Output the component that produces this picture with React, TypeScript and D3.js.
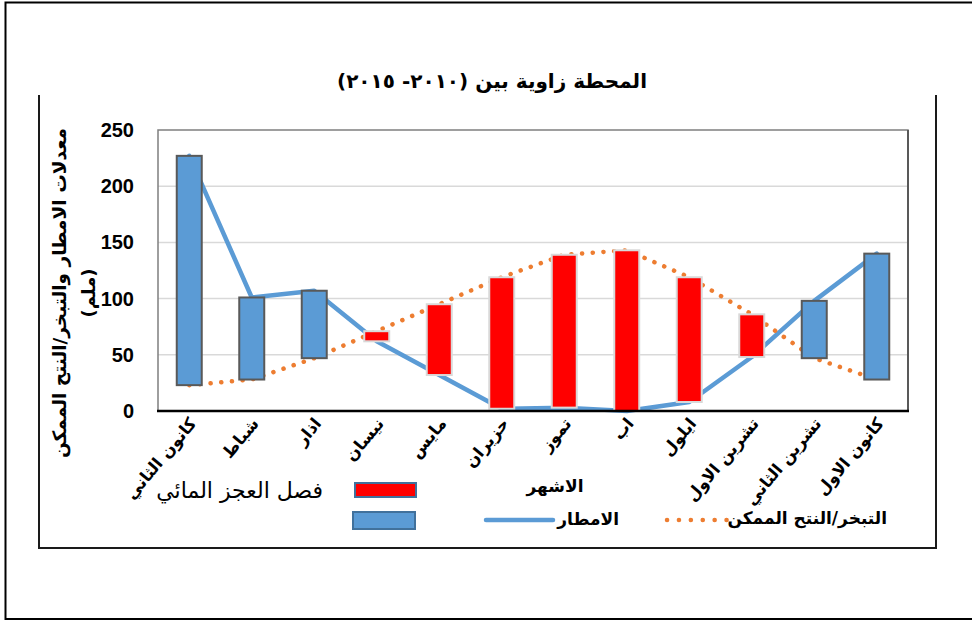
import React, { useRef, useEffect } from "react";
import * as d3 from "d3";

// monthly averages, Zawiya Bin station 2010-2015 (mm)
const months = [
  "كانون الثاني",
  "شباط",
  "اذار",
  "نيسان",
  "مايس",
  "حزيران",
  "تموز",
  "اب",
  "ايلول",
  "تشرين الاول",
  "تشرين الثاني",
  "كانون الاول",
];
const rain = [227, 101, 107, 62, 32, 2, 3, 0, 8, 48, 98, 140];
const evap = [23, 28, 47, 71, 95, 119, 139, 143, 119, 86, 47, 28];
const yTicks = [0, 50, 100, 150, 200, 250];

const AR = "'DejaVu Sans', sans-serif";
const NUM = "'Liberation Sans Narrow', 'Liberation Sans', sans-serif";

function App() {
  const svgRef = useRef<SVGSVGElement>(null);

  useEffect(() => {
    const width = 972;
    const height = 620;
    const plot = { left: 158, right: 908, top: 130, bottom: 411 };

    const svg = d3.select(svgRef.current).attr("width", width).attr("height", height);
    svg.selectAll("*").remove();

    // frames
    svg.append("rect")
      .attr("x", 5.5).attr("y", 2.5)
      .attr("width", 980).attr("height", 616.5)
      .attr("fill", "#fff").attr("stroke", "#000").attr("stroke-width", 2);

    svg.append("path")
      .attr("d", "M39,95 V548 H936 V95")
      .attr("fill", "none").attr("stroke", "#1a1a1a").attr("stroke-width", 2);

    // SCALES
    const x = d3.scaleBand<string>()
      .domain(months)
      .range([plot.left, plot.right])
      .padding(0);
    const cx = (i: number) => (x(months[i]) as number) + x.bandwidth() / 2;

    const y = d3.scaleLinear().domain([0, 250]).range([plot.bottom, plot.top]);

    // GRID
    svg.append("g")
      .selectAll("line")
      .data(yTicks.slice(1, -1))
      .enter()
      .append("line")
      .attr("x1", plot.left).attr("x2", plot.right)
      .attr("y1", d => y(d)).attr("y2", d => y(d))
      .attr("stroke", "#d9d9d9").attr("stroke-width", 1.5);

    // plot border
    svg.append("path")
      .attr("d", `M${plot.left},${plot.bottom} V${plot.top} H${plot.right} V${plot.bottom}`)
      .attr("fill", "none").attr("stroke", "#7f7f7f").attr("stroke-width", 1.5);
    svg.append("line")
      .attr("x1", plot.right).attr("x2", plot.right)
      .attr("y1", plot.top).attr("y2", plot.bottom)
      .attr("stroke", "#595959").attr("stroke-width", 2);

    // LINES
    const line = d3.line<number>().x((_, i) => cx(i)).y(d => y(d));

    svg.append("path")
      .datum(rain)
      .attr("d", line)
      .attr("fill", "none")
      .attr("stroke", "#5b9bd5")
      .attr("stroke-width", 4.5)
      .attr("stroke-linejoin", "round")
      .attr("stroke-linecap", "round");

    svg.append("path")
      .datum(evap)
      .attr("d", line)
      .attr("fill", "none")
      .attr("stroke", "#ed7d31")
      .attr("stroke-width", 4.5)
      .attr("stroke-linecap", "round")
      .attr("stroke-dasharray", "0.1 10.6");

    // UP/DOWN BARS
    const bw = x.bandwidth() * 0.4;
    svg.append("g")
      .selectAll("rect")
      .data(months)
      .enter()
      .append("rect")
      .attr("x", (_, i) => cx(i) - bw / 2)
      .attr("y", (_, i) => y(Math.max(rain[i], evap[i])))
      .attr("width", bw)
      .attr("height", (_, i) => Math.abs(y(rain[i]) - y(evap[i])))
      .attr("fill", (_, i) => (rain[i] > evap[i] ? "#5b9bd5" : "#ff0000"))
      .attr("stroke", (_, i) => (rain[i] > evap[i] ? "#595959" : "#d9d9d9"))
      .attr("stroke-width", 2);

    // bottom axis line
    svg.append("line")
      .attr("x1", plot.left - 1).attr("x2", plot.right + 1)
      .attr("y1", plot.bottom).attr("y2", plot.bottom)
      .attr("stroke", "#000").attr("stroke-width", 2.5);

    // Y TICK LABELS
    svg.append("g")
      .selectAll("text")
      .data(yTicks)
      .enter()
      .append("text")
      .attr("x", 134)
      .attr("y", d => y(d))
      .attr("dy", "0.35em")
      .attr("text-anchor", "end")
      .attr("font-family", NUM)
      .attr("font-weight", "bold")
      .attr("font-size", 20)
      .text(d => d);

    // X LABELS
    svg.append("g")
      .selectAll("text")
      .data(months)
      .enter()
      .append("text")
      .attr("transform", (_, i) => `translate(${cx(i) + 8},${424}) rotate(-50)`)
      .attr("text-anchor", "end")
      .attr("font-family", AR)
      .attr("font-weight", "bold")
      .attr("font-size", 16.5)
      .text(d => d);

    // TITLE
    svg.append("text")
      .attr("x", 492)
      .attr("y", 88)
      .attr("direction", "rtl")
      .attr("text-anchor", "middle")
      .attr("font-family", AR)
      .attr("font-weight", "bold")
      .attr("font-size", 20)
      .text("المحطة زاوية بين (٢٠١٠- ٢٠١٥)");

    // AXIS TITLES
    const yTitle = svg.append("g").attr("transform", "translate(0,293) rotate(-90)");
    yTitle.append("text")
      .attr("x", 0).attr("y", 66)
      .attr("direction", "rtl")
      .attr("text-anchor", "middle")
      .attr("font-family", AR)
      .attr("font-weight", "bold")
      .attr("font-size", 18.5)
      .text("معدلات الامطار والتبخر/النتح الممكن");
    yTitle.append("text")
      .attr("x", 0).attr("y", 95)
      .attr("direction", "rtl")
      .attr("text-anchor", "middle")
      .attr("font-family", AR)
      .attr("font-weight", "bold")
      .attr("font-size", 18)
      .text("(ملم)");

    svg.append("text")
      .attr("x", 555)
      .attr("y", 492)
      .attr("text-anchor", "middle")
      .attr("font-family", AR)
      .attr("font-weight", "bold")
      .attr("font-size", 17)
      .text("الاشهر");

    // LEGEND
    svg.append("rect")
      .attr("x", 355).attr("y", 483).attr("width", 61).attr("height", 14)
      .attr("fill", "#ff0000").attr("stroke", "#41719c").attr("stroke-width", 2);
    svg.append("rect")
      .attr("x", 353).attr("y", 512).attr("width", 62).attr("height", 17)
      .attr("fill", "#5b9bd5").attr("stroke", "#41719c").attr("stroke-width", 2);
    svg.append("text")
      .attr("x", 323).attr("y", 498)
      .attr("text-anchor", "end")
      .attr("font-family", AR)
      .attr("font-size", 22)
      .text("فصل العجز المائي");

    svg.append("line")
      .attr("x1", 486).attr("x2", 553).attr("y1", 520).attr("y2", 520)
      .attr("stroke", "#5b9bd5").attr("stroke-width", 4.5).attr("stroke-linecap", "round");
    svg.append("text")
      .attr("x", 619).attr("y", 525)
      .attr("text-anchor", "end")
      .attr("font-family", AR)
      .attr("font-weight", "bold")
      .attr("font-size", 17)
      .text("الامطار");

    svg.append("line")
      .attr("x1", 667).attr("x2", 728).attr("y1", 520).attr("y2", 520)
      .attr("stroke", "#ed7d31").attr("stroke-width", 4.5).attr("stroke-linecap", "round")
      .attr("stroke-dasharray", "0.1 11.8");
    svg.append("text")
      .attr("x", 887).attr("y", 524)
      .attr("text-anchor", "end")
      .attr("font-family", AR)
      .attr("font-weight", "bold")
      .attr("font-size", 17)
      .text("التبخر/النتح الممكن");
  }, []);

  return (
    <svg
      ref={svgRef}
      style={{ position: "absolute", left: 0, top: 0, display: "block" }}
    ></svg>
  );
}

export default App;
